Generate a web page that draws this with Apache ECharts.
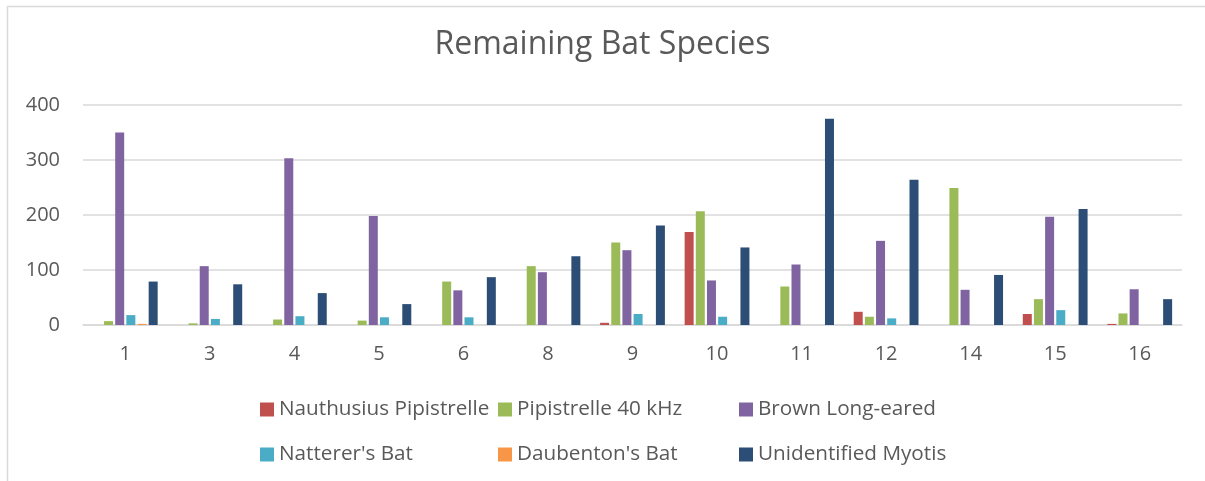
<!DOCTYPE html>
<html>
<head>
<meta charset="utf-8">
<script src="https://cdn.jsdelivr.net/npm/echarts@6/dist/echarts.min.js"></script>
<style>
html,body{margin:0;padding:0;background:#fff;}
#main{width:1205px;height:481px;}
</style>
</head>
<body>
<div id="main"></div>
<script>
const categories = ['1','3','4','5','6','8','9','10','11','12','14','15','16'];
const nauthusius = [0,0,0,0,0,0,4,169,0,24,0,20,2];
const pip40 = [7,3,10,8,79,107,150,207,70,15,249,47,21];
const brownLongEared = [350,107,303,198,63,96,136,81,110,153,64,197,65];
const natterers = [18,11,16,14,14,0,20,15,0,12,0,27,0];
const daubentons = [2,0,0,0,0,0,0,0,0,0,0,0,0];
const unidentifiedMyotis = [79,74,58,38,87,125,181,141,375,264,91,211,47];
const yTicks = [0,100,200,300,400];

const seriesNames = ['Nauthusius Pipistrelle','Pipistrelle 40 kHz','Brown Long-eared',"Natterer's Bat","Daubenton's Bat",'Unidentified Myotis'];
const seriesData = [nauthusius,pip40,brownLongEared,natterers,daubentons,unidentifiedMyotis];
const colors = ['#C0504D','#9BBB59','#8064A2','#4BACC6','#F79646','#2C4D75'];
const font = '"Open Sans", "Segoe UI", sans-serif';
const legendPos = [[260,399],[498,399],[739,399],[260,444],[498,444],[739,444]];

const chart = echarts.init(document.getElementById('main'));
chart.setOption({
  animation:false,
  color: colors,
  textStyle:{fontFamily:font},
  graphic:[{type:'rect',shape:{x:7.5,y:6.5,width:1400,height:800},style:{fill:'none',stroke:'#d9d9d9',lineWidth:1.5},silent:true}],
  title:{text:'Remaining Bat Species',left:'center',top:29,padding:0,
    textStyle:{fontFamily:font,fontSize:32,fontWeight:'normal',color:'#595959'}},
  legend: seriesNames.map((n,i)=>({data:[n],left:legendPos[i][0],top:legendPos[i][1],padding:0,
    itemWidth:14,itemHeight:14,icon:'rect',itemGap:6,
    textStyle:{fontFamily:font,fontSize:20.7,color:'#595959'}})),
  grid:{left:83,right:23,top:105,bottom:156,containLabel:false},
  xAxis:{type:'category',data:categories,
    axisLine:{lineStyle:{color:'#d9d9d9',width:1.5}},axisTick:{show:false},
    axisLabel:{color:'#595959',fontSize:20,margin:19,fontFamily:font}},
  yAxis:{type:'value',min:yTicks[0],max:yTicks[yTicks.length-1],interval:100,
    axisLine:{show:false},axisTick:{show:false},
    splitLine:{lineStyle:{color:'#d9d9d9',width:1.5}},
    axisLabel:{color:'#595959',fontSize:20,margin:23,fontFamily:font}},
  series: seriesNames.map((n,i)=>({name:n,type:'bar',data:seriesData[i],barWidth:9,barGap:'24%',
    itemStyle:{color:colors[i]}}))
});
</script>
</body>
</html>
